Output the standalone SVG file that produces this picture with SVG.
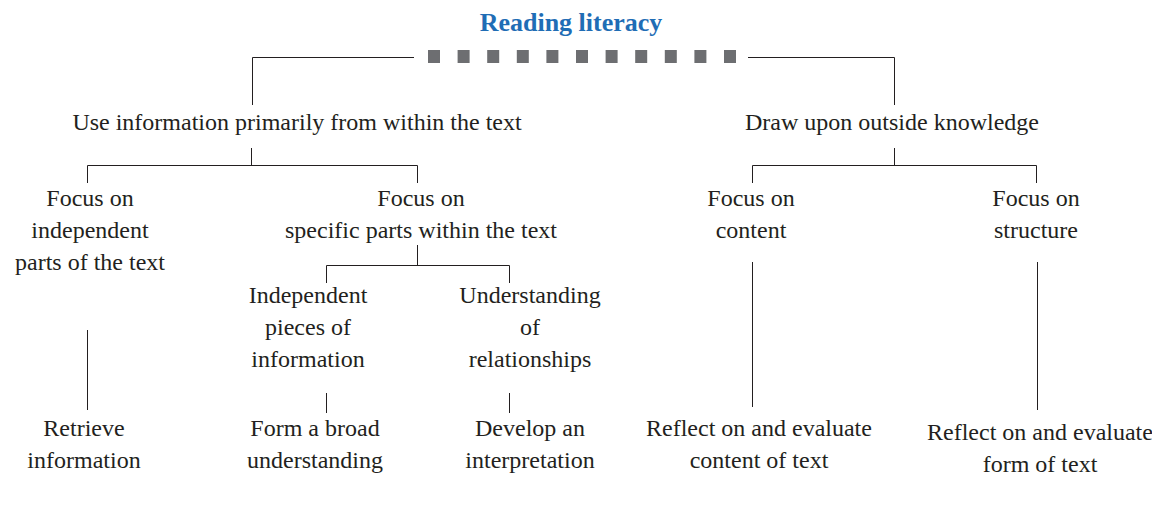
<svg xmlns="http://www.w3.org/2000/svg" width="1152" height="531" viewBox="0 0 1152 531">
<style>
text{font-family:"Liberation Serif","Times New Roman",serif;font-size:24px;fill:#231f20;text-anchor:middle}
.title{font-weight:bold;fill:#1f6db5;font-size:26px}
.ln{stroke:#231f20;stroke-width:1;fill:none}
.sq{fill:#6d6e71}
</style>
<rect width="1152" height="531" fill="#fff"/>
<g id="connectors">
<path class="ln" d="M414 57.5H252.5V105M748 57.5H894.5V105"/>
<g class="sq">
<rect x="428" y="50" width="12" height="13"/><rect x="457.6" y="50" width="12" height="13"/><rect x="487.2" y="50" width="12" height="13"/><rect x="516.8" y="50" width="12" height="13"/><rect x="546.4" y="50" width="12" height="13"/><rect x="576" y="50" width="12" height="13"/><rect x="605.6" y="50" width="12" height="13"/><rect x="635.2" y="50" width="12" height="13"/><rect x="664.8" y="50" width="12" height="13"/><rect x="694.4" y="50" width="12" height="13"/><rect x="724" y="50" width="12" height="13"/>
</g>
<path class="ln" d="M251.5 148V165.5M87.5 183V165.5H417.5V183"/>
<path class="ln" d="M417.5 245V265.5M326.5 283V265.5H509.5V283"/>
<path class="ln" d="M87.5 330V410M326.5 393V413M509.5 393V413"/>
<path class="ln" d="M894.5 148V165.5M752.5 183V165.5H1036.5V183"/>
<path class="ln" d="M752.5 262V407M1037.5 262V410"/>
</g>
<g id="title"><text class="title" x="571" y="31">Reading literacy</text></g>
<g id="n-within"><text x="297" y="130">Use information primarily from within the text</text></g>
<g id="n-outside"><text x="892" y="130">Draw upon outside knowledge</text></g>
<g id="n-independent"><text x="90" y="206">Focus on</text><text x="90" y="238">independent</text><text x="90" y="270">parts of the text</text></g>
<g id="n-specific"><text x="421" y="206">Focus on</text><text x="421" y="238">specific parts within the text</text></g>
<g id="n-pieces"><text x="308" y="303">Independent</text><text x="308" y="335">pieces of</text><text x="308" y="367">information</text></g>
<g id="n-relationships"><text x="530" y="303">Understanding</text><text x="530" y="335">of</text><text x="530" y="367">relationships</text></g>
<g id="n-content"><text x="751" y="206">Focus on</text><text x="751" y="238">content</text></g>
<g id="n-structure"><text x="1036" y="206">Focus on</text><text x="1036" y="238">structure</text></g>
<g id="n-retrieve"><text x="84" y="436">Retrieve</text><text x="84" y="468">information</text></g>
<g id="n-broad"><text x="315" y="436">Form a broad</text><text x="315" y="468">understanding</text></g>
<g id="n-interpret"><text x="530" y="436">Develop an</text><text x="530" y="468">interpretation</text></g>
<g id="n-reflect-content"><text x="759" y="436">Reflect on and evaluate</text><text x="759" y="468">content of text</text></g>
<g id="n-reflect-form"><text x="1040" y="440">Reflect on and evaluate</text><text x="1040" y="472">form of text</text></g>
</svg>
